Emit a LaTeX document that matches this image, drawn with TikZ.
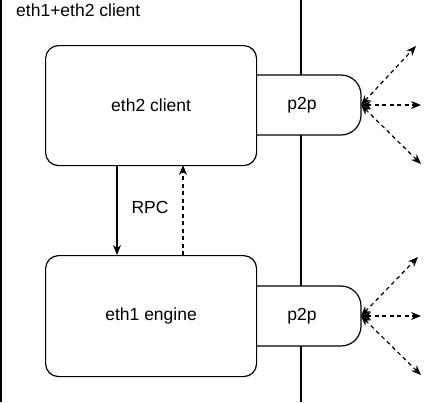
\documentclass[tikz,border=0pt]{standalone}
\usepackage{fontspec}
\setmainfont{Liberation Sans}
\usetikzlibrary{arrows.meta}
\begin{document}
\begin{tikzpicture}[x=1pt,y=-1pt,
  lw/.style={line width=1.2pt},
  box/.style={lw,draw,rounded corners=13pt,fill=white},
  lbl/.style={font=\fontsize{17.5}{20}\selectfont,inner sep=0pt},
  dasharrow/.style={lw,dash pattern=on 4pt off 3.5pt,{Stealth[length=10pt,width=8pt]}-{Stealth[length=10pt,width=8pt]}},
  solidarrow/.style={lw,-{Stealth[length=10pt,width=8pt]}},
  rpcarrow/.style={lw,dash pattern=on 4pt off 3.5pt,-{Stealth[length=10pt,width=8pt]}}]
\useasboundingbox (0,0) rectangle (435,402);
\fill[white] (0,0) rectangle (435,402);
% container (clipped at top and bottom)
\draw[lw] (1,0) -- (1,402);
\draw[lw] (301,0) -- (301,402);
\node[lbl,anchor=base west] (title) at (16,16) {eth1+eth2 client};
% p2p shapes
\draw[lw,fill=white,rounded corners=20pt] (256,75) -- (361,75) -- (361,135) -- (256,135);
\draw[lw,fill=white,rounded corners=20pt] (256,286) -- (361,286) -- (361,346) -- (256,346);
\fill[white] (262,77) rectangle (340,133);
\fill[white] (262,288) rectangle (340,344);
\node[lbl] (p2pA) at (302,105) {p2p};
\node[lbl] (p2pB) at (302,316) {p2p};
% main boxes
\node[box,minimum width=211pt,minimum height=120pt,anchor=north west] (eth2) at (45,45) {};
\node[lbl] at (eth2.center) {eth2 client};
\node[box,minimum width=211pt,minimum height=121pt,anchor=north west] (eth1) at (45,255) {};
\node[lbl] at (eth1.center) {eth1 engine};
% RPC
\coordinate (s1) at (117,165);
\coordinate (e1) at (117,255);
\coordinate (s2) at (183,255);
\coordinate (e2) at (183,165);
\draw[solidarrow] (s1) -- (e1);
\draw[rpcarrow] (s2) -- (e2);
\node[lbl] (rpc) at (150,207) {RPC};
% p2p arrows
\coordinate (pa) at (361,105);
\coordinate (pa1) at (416,46);
\coordinate (pa2) at (421,105);
\coordinate (pa3) at (421,164);
\draw[dasharrow] (pa) -- (pa1);
\draw[dasharrow] (pa) -- (pa2);
\draw[dasharrow] (pa) -- (pa3);
\coordinate (pb) at (361,316);
\coordinate (pb1) at (418,257);
\coordinate (pb2) at (421,316);
\coordinate (pb3) at (421,375);
\draw[dasharrow] (pb) -- (pb1);
\draw[dasharrow] (pb) -- (pb2);
\draw[dasharrow] (pb) -- (pb3);
\end{tikzpicture}
\end{document}
